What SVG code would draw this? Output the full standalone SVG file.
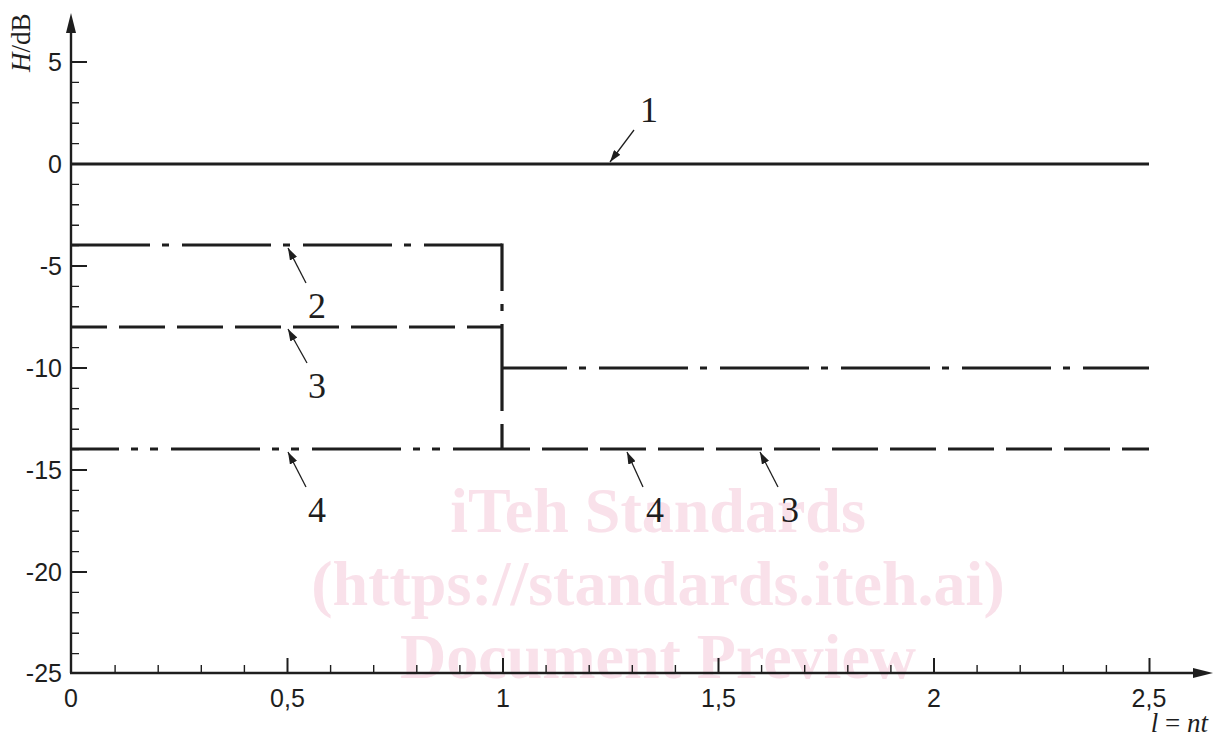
<svg xmlns="http://www.w3.org/2000/svg" width="1219" height="744" viewBox="0 0 1219 744">
<style>
  .wm { font-family: "Liberation Serif", serif; font-weight: bold; font-size: 64px; fill: #f9e1ea; text-anchor: middle; }
  .axis { stroke: #1e1e1e; stroke-width: 2.4; fill: none; }
  .tk { stroke: #1e1e1e; stroke-width: 1.4; fill: none; }
  .tkM { stroke: #1e1e1e; stroke-width: 2; fill: none; }
  .num { font-family: "Liberation Sans", Arial, sans-serif; font-size: 25px; fill: #1e1e1e; }
  .yl { text-anchor: end; dominant-baseline: central; }
  .xl { text-anchor: middle; }
  .curve { stroke: #1e1e1e; stroke-width: 3.2; fill: none; stroke-linecap: butt; }
  .lead { stroke: #1e1e1e; stroke-width: 1.3; fill: none; marker-end: url(#ah); }
  .lbl { font-family: "Liberation Serif", "Times New Roman", serif; font-size: 36px; fill: #1e1e1e; text-anchor: middle; }
  .ttl { font-family: "Liberation Serif", "Times New Roman", serif; font-size: 27px; fill: #1e1e1e; }
</style>
<defs>
  <marker id="ah" viewBox="0 0 12 8" refX="12" refY="4" markerWidth="12" markerHeight="8" markerUnits="userSpaceOnUse" orient="auto">
    <path d="M0,0 L12,4 L0,8 Z" fill="#1e1e1e"/>
  </marker>
</defs>

<rect width="1219" height="744" fill="#ffffff"/>

<g id="watermark">
  <text class="wm" x="658" y="532">iTeh Standards</text>
  <text class="wm" x="658" y="605">(https://standards.iteh.ai)</text>
  <text class="wm" x="658" y="678">Document Preview</text>
</g>

<g id="axes">
  <path class="axis" d="M71,673 V28"/>
  <path d="M71,13 L66,33 L76,33 Z" fill="#1e1e1e"/>
  <path class="axis" d="M70,673 H1196"/>
  <path d="M1213,673 L1193,668 L1193,678 Z" fill="#1e1e1e"/>
  <text class="ttl" transform="translate(30,72) rotate(-90)"><tspan font-style="italic">H</tspan>/dB</text>
  <text class="ttl" x="1208" y="732" text-anchor="end"><tspan font-style="italic">l</tspan> = <tspan font-style="italic">nt</tspan></text>
</g>

<g id="y-ticks">
  <path class="tkM" d="M71,62.0 H87 M71,164 H87 M71,266 H87 M71,368 H87 M71,470 H87 M71,572 H87"/>
  <path class="tk" d="M71,82.4 H79 M71,102.8 H79 M71,123.2 H79 M71,143.6 H79
    M71,184.4 H79 M71,204.8 H79 M71,225.2 H79 M71,245.6 H79
    M71,286.4 H79 M71,306.8 H79 M71,327.2 H79 M71,347.6 H79
    M71,388.4 H79 M71,408.8 H79 M71,429.2 H79 M71,449.6 H79
    M71,490.4 H79 M71,510.8 H79 M71,531.2 H79 M71,551.6 H79
    M71,592.4 H79 M71,612.8 H79 M71,633.2 H79 M71,653.6 H79"/>
  <text class="num yl" x="62" y="62">5</text>
  <text class="num yl" x="62" y="164">0</text>
  <text class="num yl" x="62" y="266">-5</text>
  <text class="num yl" x="62" y="368">-10</text>
  <text class="num yl" x="62" y="470">-15</text>
  <text class="num yl" x="62" y="572">-20</text>
  <text class="num yl" x="62" y="673">-25</text>
</g>

<g id="x-ticks">
  <path class="tkM" d="M287.5,673 V658 M503,673 V658 M718.5,673 V658 M934,673 V658 M1149.5,673 V658"/>
  <path class="tk" d="M115.1,673 V665 M158.2,673 V665 M201.3,673 V665 M244.4,673 V665
    M330.6,673 V665 M373.7,673 V665 M416.8,673 V665 M459.9,673 V665
    M546.1,673 V665 M589.2,673 V665 M632.3,673 V665 M675.4,673 V665
    M761.6,673 V665 M804.7,673 V665 M847.8,673 V665 M890.9,673 V665
    M977.1,673 V665 M1020.2,673 V665 M1063.3,673 V665 M1106.4,673 V665"/>
  <text class="num xl" x="71" y="707">0</text>
  <text class="num xl" x="287.5" y="707">0,5</text>
  <text class="num xl" x="503" y="707">1</text>
  <text class="num xl" x="718.5" y="707">1,5</text>
  <text class="num xl" x="934" y="707">2</text>
  <text class="num xl" x="1149" y="707">2,5</text>
</g>

<g id="curve-1">
  <path class="curve" d="M72,164 H1149"/>
</g>
<g id="curve-2">
  <path class="curve" d="M72,245 H502" stroke-dasharray="89 12 7 13" stroke-dashoffset="11"/>
  <path class="curve" d="M502,368 H1149" stroke-dasharray="89 12 7 13" stroke-dashoffset="24"/>
</g>
<g id="curve-3">
  <path class="curve" d="M72,327 H502" stroke-dasharray="46 12" stroke-dashoffset="11"/>
  <path class="curve" d="M502,449 H1149" stroke-dasharray="46 12" stroke-dashoffset="18"/>
</g>
<g id="curve-4">
  <path class="curve" d="M72,449 H502" stroke-dasharray="89 12 7 12 8 13" stroke-dashoffset="42"/>
</g>
<g id="step">
  <path class="curve" d="M502,243.4 V450.6" stroke-dasharray="47.6 13 7 13 87 13 26 500"/>
</g>

<g id="connectors">
  <path class="lead" d="M634,130 L610,162"/>
  <path class="lead" d="M306,283 L288,248"/>
  <path class="lead" d="M307,363 L288,329"/>
  <path class="lead" d="M306,487 L288,452"/>
  <path class="lead" d="M643,487 L627,452"/>
  <path class="lead" d="M778,487 L760,452"/>
</g>

<g id="labels">
  <text class="lbl" x="649" y="122">1</text>
  <text class="lbl" x="317" y="318">2</text>
  <text class="lbl" x="317" y="398">3</text>
  <text class="lbl" x="317" y="522">4</text>
  <text class="lbl" x="655" y="522">4</text>
  <text class="lbl" x="790" y="522">3</text>
</g>
</svg>
